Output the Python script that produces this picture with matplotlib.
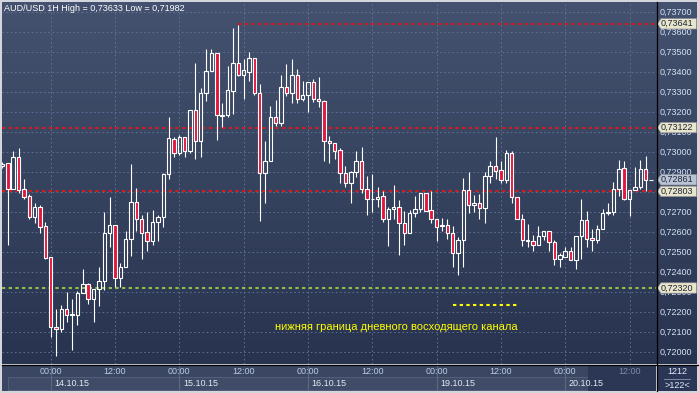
import matplotlib
matplotlib.use("Agg")
import matplotlib.pyplot as plt
import numpy as np
from matplotlib.colors import LinearSegmentedColormap
from matplotlib.lines import Line2D
from matplotlib.patches import Polygon, Rectangle

W, H = 699, 393

# AUD/USD 1H candles, 13.10.15 15:00 ... 20.10.15 16:00
opens = [
    0.72930, 0.72943, 0.72817, 0.72973, 0.72813, 0.72780, 0.72677, 0.72723, 0.72630, 0.72473,
    0.72127, 0.72117, 0.72213, 0.72183, 0.72187, 0.72293, 0.72340, 0.72263, 0.72313, 0.72353,
    0.72593, 0.72633, 0.72372, 0.72423, 0.72563, 0.72750, 0.72663, 0.72600, 0.72557, 0.72650,
    0.72673, 0.72890, 0.73063, 0.72997, 0.73073, 0.73003, 0.73210, 0.73053, 0.73293, 0.73407,
    0.73493, 0.73187, 0.73187, 0.73307, 0.73443, 0.73383, 0.73400, 0.73470, 0.73293, 0.72893,
    0.72953, 0.73173, 0.73147, 0.73323, 0.73293, 0.73383, 0.73263, 0.73287, 0.73350, 0.73263,
    0.73253, 0.73053, 0.73043, 0.73010, 0.72897, 0.72847, 0.72900, 0.72953, 0.72817, 0.72763,
    0.72767, 0.72780, 0.72667, 0.72713, 0.72727, 0.72643, 0.72597, 0.72693, 0.72717, 0.72793,
    0.72710, 0.72663, 0.72630, 0.72633, 0.72593, 0.72493, 0.72560, 0.72810, 0.72733, 0.72743,
    0.72720, 0.72880, 0.72930, 0.72910, 0.72860, 0.72997, 0.72773, 0.72663, 0.72553, 0.72553,
    0.72533, 0.72580, 0.72603, 0.72550, 0.72463, 0.72477, 0.72503, 0.72460, 0.72580, 0.72660,
    0.72570, 0.72560, 0.72617, 0.72697, 0.72700, 0.72813, 0.72920, 0.72763, 0.72810, 0.72823,
    0.72913, 0.72861,
]
highs = [
    0.72950, 0.72943, 0.73003, 0.73020, 0.72863, 0.72790, 0.72743, 0.72733, 0.72650, 0.72473,
    0.72213, 0.72233, 0.72300, 0.72263, 0.72303, 0.72413, 0.72343, 0.72313, 0.72427, 0.72700,
    0.72777, 0.72633, 0.72443, 0.72603, 0.72940, 0.72820, 0.72683, 0.72700, 0.72710, 0.72683,
    0.72897, 0.73173, 0.73073, 0.73083, 0.73077, 0.73210, 0.73443, 0.73320, 0.73513, 0.73513,
    0.73493, 0.73243, 0.73430, 0.73620, 0.73633, 0.73463, 0.73500, 0.73470, 0.73340, 0.73053,
    0.73230, 0.73260, 0.73383, 0.73440, 0.73463, 0.73413, 0.73353, 0.73350, 0.73367, 0.73373,
    0.73260, 0.73080, 0.73043, 0.73020, 0.72930, 0.72907, 0.73003, 0.73023, 0.72880, 0.72890,
    0.72827, 0.72807, 0.72723, 0.72833, 0.72760, 0.72707, 0.72710, 0.72780, 0.72793, 0.72793,
    0.72803, 0.72663, 0.72670, 0.72667, 0.72630, 0.72573, 0.72870, 0.72900, 0.72783, 0.72790,
    0.72900, 0.72953, 0.73077, 0.72953, 0.73010, 0.73003, 0.72773, 0.72690, 0.72640, 0.72583,
    0.72630, 0.72603, 0.72603, 0.72560, 0.72497, 0.72527, 0.72527, 0.72580, 0.72767, 0.72707,
    0.72617, 0.72637, 0.72717, 0.72743, 0.72850, 0.72960, 0.72957, 0.72810, 0.72923, 0.72960,
    0.72980, 0.72861,
]
lows = [
    0.72920, 0.72537, 0.72817, 0.72793, 0.72763, 0.72663, 0.72647, 0.72593, 0.72467, 0.72073,
    0.71982, 0.72100, 0.72150, 0.72010, 0.72137, 0.72293, 0.72240, 0.72150, 0.72230, 0.72310,
    0.72527, 0.72327, 0.72327, 0.72423, 0.72480, 0.72603, 0.72463, 0.72507, 0.72533, 0.72557,
    0.72623, 0.72863, 0.72973, 0.72987, 0.72973, 0.72993, 0.72967, 0.72977, 0.73253, 0.73407,
    0.73060, 0.73127, 0.73173, 0.73190, 0.73380, 0.73267, 0.73357, 0.73287, 0.72657, 0.72747,
    0.72953, 0.73130, 0.73130, 0.73280, 0.73243, 0.73243, 0.73257, 0.73200, 0.73250, 0.73223,
    0.72953, 0.72947, 0.72967, 0.72843, 0.72827, 0.72747, 0.72873, 0.72797, 0.72687, 0.72700,
    0.72723, 0.72650, 0.72530, 0.72667, 0.72487, 0.72537, 0.72597, 0.72677, 0.72700, 0.72707,
    0.72647, 0.72553, 0.72607, 0.72563, 0.72423, 0.72387, 0.72427, 0.72697, 0.72700, 0.72667,
    0.72647, 0.72847, 0.72867, 0.72847, 0.72843, 0.72743, 0.72663, 0.72530, 0.72523, 0.72507,
    0.72533, 0.72560, 0.72503, 0.72433, 0.72427, 0.72477, 0.72460, 0.72417, 0.72467, 0.72523,
    0.72503, 0.72543, 0.72613, 0.72683, 0.72683, 0.72780, 0.72760, 0.72680, 0.72810, 0.72813,
    0.72807, 0.72861,
]
closes = [
    0.72940, 0.72817, 0.72973, 0.72810, 0.72777, 0.72677, 0.72723, 0.72623, 0.72470, 0.72127,
    0.72117, 0.72213, 0.72183, 0.72190, 0.72293, 0.72340, 0.72263, 0.72313, 0.72353, 0.72593,
    0.72633, 0.72372, 0.72423, 0.72563, 0.72750, 0.72663, 0.72597, 0.72557, 0.72650, 0.72673,
    0.72890, 0.73070, 0.72997, 0.73073, 0.73003, 0.73210, 0.73053, 0.73293, 0.73407, 0.73493,
    0.73183, 0.73180, 0.73310, 0.73443, 0.73387, 0.73410, 0.73470, 0.73293, 0.72893, 0.72953,
    0.73173, 0.73147, 0.73323, 0.73293, 0.73383, 0.73263, 0.73287, 0.73350, 0.73263, 0.73253,
    0.73053, 0.73043, 0.73007, 0.72897, 0.72847, 0.72900, 0.72953, 0.72817, 0.72763, 0.72767,
    0.72777, 0.72667, 0.72713, 0.72727, 0.72643, 0.72597, 0.72693, 0.72717, 0.72793, 0.72707,
    0.72663, 0.72627, 0.72633, 0.72593, 0.72493, 0.72560, 0.72810, 0.72733, 0.72743, 0.72720,
    0.72880, 0.72930, 0.72907, 0.72860, 0.72997, 0.72773, 0.72663, 0.72560, 0.72560, 0.72533,
    0.72580, 0.72603, 0.72550, 0.72463, 0.72487, 0.72503, 0.72460, 0.72580, 0.72660, 0.72567,
    0.72560, 0.72617, 0.72693, 0.72700, 0.72813, 0.72913, 0.72763, 0.72810, 0.72823, 0.72913,
    0.72860, 0.72861,
]

price_ticks = [0.720, 0.721, 0.722, 0.723, 0.724, 0.725, 0.726, 0.727, 0.728,
               0.729, 0.730, 0.731, 0.732, 0.733, 0.734, 0.735, 0.736, 0.737]
time_ticks = [9, 21, 33, 45, 57, 69, 81, 93, 105, 117]
time_labels = ["00:00", "12:00"] * 5
day_starts = [9, 33, 57, 81, 105]
day_labels = ["14.10.15", "15.10.15", "16.10.15", "19.10.15", "20.10.15"]

high_level, high_start = 0.73641, 44
red_levels = [0.73122, 0.72803]
green_level = 0.72320
channel_level, channel_from, channel_to = 0.72235, 84, 96
channel_text = "нижняя граница дневного восходящего канала"
title = "AUD/USD 1H High = 0,73633 Low = 0,71982"
last_price = 0.72861

BEAR = "#e3173d"
RED_LINE = "#cf1b22"
GREEN_LINE = "#8fbf4a"
GRID = "#66769a"
LABEL = "#d5e2f5"
DASH = (1.6, 1.6)

plt.rcParams["font.family"] = ["Liberation Sans", "DejaVu Sans"]
plt.rcParams["font.size"] = 6.5

YLIM = (0.71940, 0.73750)
XLIM = (-0.08, 121.94)


def px_rect(x0, y0, x1, y1):
    """Pixel box (top-left origin) -> figure fraction rect."""
    return [x0 / W, 1 - y1 / H, (x1 - x0) / W, (y1 - y0) / H]


def fmt(p):
    return f"{p:.5f}".replace(".", ",")


fig = plt.figure(figsize=(W / 100, H / 100), dpi=100, facecolor="#d3d6dc")

# -- gradient background behind chart and price scale ------------------------
bg = fig.add_axes(px_rect(2, 2, 697, 364))
cmap = LinearSegmentedColormap.from_list("bg", ["#44526f", "#36435f", "#28334f"])
bg.imshow(np.linspace(0, 1, 256).reshape(-1, 1), aspect="auto", cmap=cmap,
          extent=[0, 1, 0, 1], origin="upper")
bg.set_axis_off()

# -- main chart ---------------------------------------------------------------
ax = fig.add_axes(px_rect(2, 2, 656, 364))
ax.set_facecolor("none")
ax.set_xlim(*XLIM)
ax.set_ylim(*YLIM)
for s in ax.spines.values():
    s.set_visible(False)
ax.set_xticks([])
ax.set_yticks([])

for p in price_ticks:
    ax.axhline(p, color=GRID, lw=0.6, dashes=(2, 3), zorder=1)
for t in time_ticks:
    ax.axvline(t, color=GRID, lw=0.6, dashes=(2, 3), zorder=1)

o, h, l, c = (np.array(v) for v in (opens, highs, lows, closes))
x = np.arange(len(o))
top = np.maximum(o, c)
bot = np.minimum(o, c)
up = c >= o
ax.vlines(x, top, h, color="white", lw=0.8, zorder=3)
ax.vlines(x, l, bot, color="white", lw=0.8, zorder=3)
ax.bar(x[up], (top - bot)[up], bottom=bot[up], width=0.64, facecolor="none",
       edgecolor="white", lw=0.8, zorder=4)
ax.bar(x[~up], (top - bot)[~up], bottom=bot[~up], width=0.64, facecolor=BEAR,
       edgecolor="white", lw=0.8, zorder=4)

# -- levels ---------------------------------------------------------------------
ax.plot([high_start, XLIM[1]], [high_level] * 2, color=RED_LINE, lw=1.5, dashes=DASH, zorder=2)
for lv in red_levels:
    ax.axhline(lv, color=RED_LINE, lw=1.5, dashes=DASH, zorder=2)
ax.axhline(green_level, color=GREEN_LINE, lw=1.5, dashes=DASH, zorder=2)
ax.plot([channel_from, channel_to], [channel_level] * 2, color="#ffff00", lw=1.5,
        dashes=DASH, zorder=2)

ax.text(73.5, 0.72124, channel_text, color="#ffff00", fontsize=8, ha="center",
        va="center")
fig.text(4 / W, 1 - 8.5 / H, title, color="white", fontsize=6.5, va="center", ha="left")

# -- price scale ----------------------------------------------------------------
ar = fig.add_axes(px_rect(657, 2, 697, 364))
ar.set_facecolor("none")
ar.set_xlim(0, 40)
ar.set_ylim(*YLIM)
ar.set_axis_off()
for p in price_ticks:
    if YLIM[0] < p < YLIM[1]:
        ar.text(2.5, p, fmt(p), color=LABEL, fontsize=6.5, va="center", zorder=2)

tags = [(high_level, "#e8e5ca"), (red_levels[0], "#e8e5ca"), (red_levels[1], "#e8e5ca"),
        (green_level, "#e8e5ca"), (last_price, "#b9c3d4")]
hh = 0.00026
for p, col in tags:
    ar.add_patch(Polygon([(0.3, p), (4, p + hh), (39.5, p + hh), (39.5, p - hh), (4, p - hh)],
                         closed=True, fc=col, ec="#8a8f9a", lw=0.5, zorder=3))
    ar.text(3.5, p, fmt(p), color="#1c2638", fontsize=6.5, va="center", zorder=4)

# -- time scale -------------------------------------------------------------------
ab = fig.add_axes(px_rect(2, 365, 656, 391))
ab.set_xlim(*XLIM)
ab.set_ylim(391, 365)
ab.set_axis_off()
ab.add_patch(Rectangle((XLIM[0], 365), XLIM[1] - XLIM[0], 26, fc="#3b4762", zorder=0))
ab.add_patch(Rectangle((1, 377.5), XLIM[1], 13, fc="#404c67", ec="#56637f", lw=0.6, zorder=1))
ab.add_patch(Rectangle((109.2, 365), XLIM[1] - 109.2, 26, fc="#2c3756", zorder=2))
for d, lab in zip(day_starts, day_labels):
    ab.vlines(d, 365, 391, color="#5d6a86", lw=0.8, zorder=3)
    ab.text(d + 0.7, 384, lab, color="#e2e9f5", fontsize=6.5, va="center", zorder=5)
for t, lab in zip(time_ticks, time_labels):
    col = "#7c89a6" if t > 109 else "#b8cbe8"
    ab.text(t, 372, lab, color=col, fontsize=6.5, ha="center", va="center", zorder=5)

# -- corner box ---------------------------------------------------------------------
ac = fig.add_axes(px_rect(657, 365, 697, 391))
ac.set_xlim(0, 40)
ac.set_ylim(26, 0)
ac.set_axis_off()
ac.add_patch(Rectangle((0, 0), 40, 26, fc="#2b3656"))
ac.text(20, 7, "1212", color="#e2e9f5", fontsize=6.5, ha="center", va="center")
ac.plot([7, 33], [13.5, 13.5], color="#8d98b0", lw=0.6)
ac.text(20, 20, ">122<", color="#e2e9f5", fontsize=6.5, ha="center", va="center")

# separators
fig.add_artist(Line2D([2 / W, 699 / W], [1 - 364.5 / H] * 2, color="black", lw=0.9))
fig.add_artist(Line2D([656.5 / W] * 2, [1 - 2 / H, 1 - 391 / H], color="black", lw=0.9))

fig.savefig("out.png", dpi=100, facecolor=fig.get_facecolor())
